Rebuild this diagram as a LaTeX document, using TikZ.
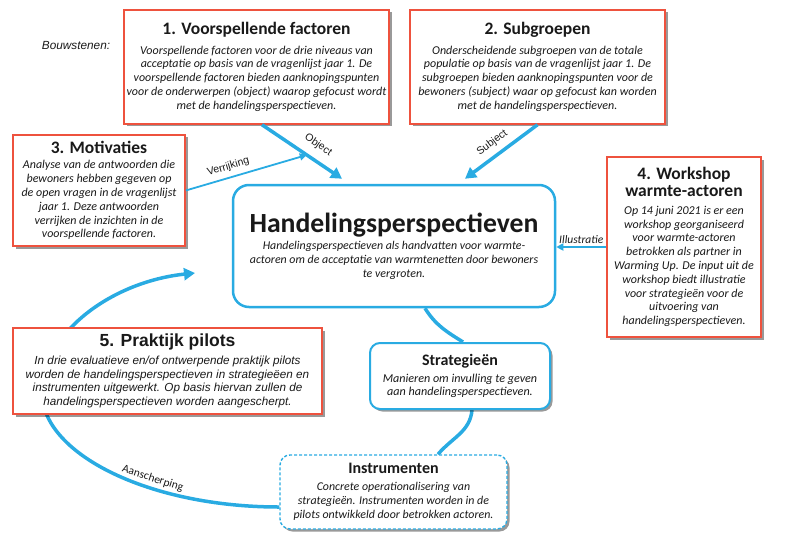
\documentclass[tikz,border=0pt]{standalone}
\usepackage{fontspec}
\setmainfont{Carlito}
\newfontfamily\arialfont{Liberation Sans}
\usetikzlibrary{arrows.meta, positioning, calc, shadows, backgrounds}
\definecolor{myred}{RGB}{238,82,62}
\definecolor{myblue}{RGB}{41,171,226}
\definecolor{mydark}{RGB}{25,25,25}
\tikzset{
  redblock/.style={rectangle, draw=myred, fill=white, line width=1.5pt,
    align=center, inner sep=0pt, text=mydark,
    drop shadow={shadow xshift=2.5pt, shadow yshift=-2.5pt, opacity=0.4, fill=black},
    font=\fontsize{12}{13.8}\selectfont\itshape},
  blueblock/.style={rectangle, draw=myblue, fill=white, line width=2pt,
    rounded corners=10pt, align=center, inner sep=0pt, text=mydark,
    drop shadow={shadow xshift=2.5pt, shadow yshift=-2.5pt, opacity=0.4, fill=black},
    font=\fontsize{12.1}{13.2}\selectfont\itshape},
  hpblock/.style={rectangle, draw=myblue, fill=white, line width=2.5pt,
    rounded corners=16pt, align=center, inner sep=0pt, text=mydark,
    font=\fontsize{11.9}{13.8}\selectfont\itshape},
  bigarrow/.style={-{Triangle[length=11pt,width=12pt]}, line width=3.5pt, myblue},
  thinarrow/.style={-{Triangle[length=7pt,width=7pt]}, line width=1.8pt, myblue},
  loopline/.style={line width=3.5pt, myblue},
  lbl/.style={font=\arialfont\fontsize{10.5}{12}\selectfont, text=mydark, inner sep=1pt}
}
\newcommand{\btitle}[1]{{\upshape\bfseries\fontsize{17.5}{20}\selectfont #1}}
\newcommand{\stitle}[1]{{\upshape\bfseries\fontsize{16}{18}\selectfont #1}}

\begin{document}
\begin{tikzpicture}[x=1pt, y=-1pt]
  \useasboundingbox (0,0) rectangle (799,556);
  % Bouwstenen
  \node[font=\arialfont\itshape\fontsize{11.8}{13}\selectfont, text=mydark] (bouw) at (76,46) {Bouwstenen:};
  \node[redblock, minimum width=265pt, minimum height=114pt] (fac) at (256.5,67)
    {\btitle{1. Voorspellende factoren}\\[5.5pt]
     Voorspellende factoren voor de drie niveaus van\\
     acceptatie op basis van de vragenlijst jaar 1. De\\
     voorspellende factoren bieden aanknopingspunten\\
     voor de onderwerpen (object) waarop gefocust wordt\\
     met de handelingsperspectieven.};
  \node[redblock, minimum width=255pt, minimum height=114pt] (sub) at (537.5,67)
    {\btitle{2. Subgroepen}\\[5.5pt]
     Onderscheidende subgroepen van de totale\\
     populatie op basis van de vragenlijst jaar 1. De\\
     subgroepen bieden aanknopingspunten voor de\\
     bewoners (subject) waar op gefocust kan worden\\
     met de handelingsperspectieven.};
  \node[redblock, minimum width=172pt, minimum height=111pt] (mot) at (99,190.5)
    {\btitle{3. Motivaties}\\[1.5pt]
     Analyse van de antwoorden die\\
     bewoners hebben gegeven op\\
     de open vragen in de vragenlijst\\
     jaar 1. Deze antwoorden\\
     verrijken de inzichten in de\\
     voorspellende factoren.};
  \node[redblock, minimum width=154pt, minimum height=180pt] (ws) at (684,247)
    {\btitle{4. Workshop}\\[3.5pt]
     \btitle{warmte-actoren}\\[3.5pt]
     Op 14 juni 2021 is er een\\
     workshop georganiseerd\\
     voor warmte-actoren\\
     betrokken als partner in\\
     Warming Up. De input uit de\\
     workshop biedt illustratie\\
     voor strategieën voor de\\
     uitvoering van\\
     handelingsperspectieven.};
  \node[redblock, minimum width=309pt, minimum height=86pt,
        font=\arialfont\itshape\fontsize{11.7}{13.7}\selectfont] (pil) at (167.5,371)
    {{\upshape\bfseries\fontsize{17.5}{20}\selectfont 5. Praktijk pilots}\\[4pt]
     In drie evaluatieve en/of ontwerpende praktijk pilots\\
     worden de handelingsperspectieven in strategieëen en\\
     instrumenten uitgewerkt. Op basis hiervan zullen de\\
     handelingsperspectieven worden aangescherpt.};
  % Handelingsperspectieven
  \node[hpblock, minimum width=322pt, minimum height=122pt] (hp) at (394,246)
    {{\upshape\bfseries\fontsize{27.7}{32}\selectfont Handelingsperspectieven}\\[4pt]
     Handelingsperspectieven als handvatten voor warmte-\\
     actoren om de acceptatie van warmtenetten door bewoners\\
     te vergroten.};
  \node[blueblock, minimum width=180pt, minimum height=66pt] (strat) at (460,376)
    {\stitle{Strategieën}\\[3.5pt]
     Manieren om invulling te geven\\
     aan handelingsperspectieven.};
  \node[blueblock, dash pattern=on 3pt off 2pt, line width=1.4pt,
        minimum width=227pt, minimum height=74pt,
        font=\fontsize{11.9}{14}\selectfont\itshape] (instr) at (393.5,492)
    {\stitle{Instrumenten}\\[3pt]
     Concrete operationalisering van\\
     strategieën. Instrumenten worden in de\\
     pilots ontwikkeld door betrokken actoren.};
  % inputs
  \coordinate (objstart) at ([xshift=5.5pt]fac.south);
  \coordinate (objend) at ([xshift=-52pt,yshift=5pt]hp.north);
  \coordinate (objmid) at ($(objstart)!0.56!(objend)$);
  \draw[bigarrow] (objstart) -- node[lbl, pos=0.6, sloped, above=7pt] {Object} (objend);
  \draw[bigarrow] (sub.south) -- node[lbl, pos=0.52, sloped, above=5pt] {Subject}
    ([xshift=71pt,yshift=5pt]hp.north);
  \draw[thinarrow] (mot.east) -- node[lbl, pos=0.376, sloped, above=4pt] {Verrijking} (objmid);
  \draw[thinarrow] (ws.west) -- node[lbl, font=\itshape\fontsize{11.5}{12}\selectfont, above=2pt]
    {Illustratie} (ws.west -| hp.east);
  % cyclus
  \coordinate (loopend) at (195,273);
  \begin{scope}[on background layer]
    \draw[loopline] ([xshift=31pt]hp.south) to[out=-58, in=148] ([xshift=3pt]strat.north);
    \draw[loopline] ([xshift=12pt]strat.south) to[out=-95, in=50] ([xshift=44.5pt]instr.north);
    \draw[loopline, -{Triangle[length=11pt,width=12pt]}]
      ([yshift=-15pt]instr.west) .. controls (150,507) and (45,455) .. (42,395)
      node[lbl, pos=0.37, sloped, above=2pt, font=\fontsize{11.5}{12}\selectfont] {Aanscherping}
      .. controls (40,335) and (110,282) .. (loopend);
  \end{scope}
\end{tikzpicture}
\end{document}
